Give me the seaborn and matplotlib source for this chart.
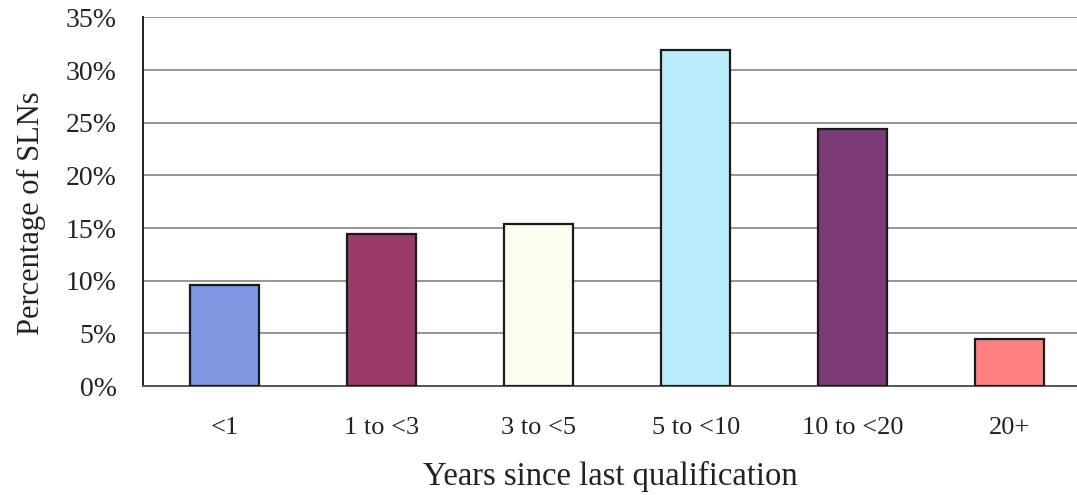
import matplotlib
matplotlib.use("Agg")
import matplotlib.pyplot as plt
from matplotlib.ticker import FixedLocator, PercentFormatter
import seaborn as sns
import pandas as pd

# Share of SLNs by years since their last qualification
categories = ["<1", "1 to <3", "3 to <5", "5 to <10", "10 to <20", "20+"]
percentages = [9.6, 14.4, 15.4, 31.9, 24.4, 4.5]
bar_colors = ["#7f96e0", "#993a68", "#fdfdf0", "#b8ecfa", "#7b3a78", "#ff8080"]
y_ticks = [0, 5, 10, 15, 20, 25, 30, 35]

df = pd.DataFrame({"years": categories, "pct": percentages})

sns.set_style("white")
plt.rcParams["font.family"] = ["Liberation Serif", "DejaVu Serif"]

fig = plt.figure(figsize=(10.77, 4.95), dpi=100)
ax = fig.add_axes([0.133, 0.22, 0.867, 0.745])

sns.barplot(data=df, x="years", y="pct", hue="years", palette=bar_colors,
            order=categories, hue_order=categories, legend=False,
            width=0.44, edgecolor="#1a1a1a", linewidth=1.6, saturation=1,
            ax=ax, zorder=3)

ax.set_xlim(-0.52, 5.43)
ax.set_ylim(0, 35)
ax.yaxis.set_major_locator(FixedLocator(y_ticks))
ax.yaxis.set_major_formatter(PercentFormatter(decimals=0))
ax.grid(axis="y", color="#8c8c8c", linewidth=1.3, zorder=0)
ax.set_axisbelow(True)

# category boundary ticks below the x axis
ax.xaxis.set_minor_locator(FixedLocator([i - 0.5 for i in range(len(categories) + 1)]))
ax.tick_params(axis="x", which="major", length=0, pad=22, labelsize=19, colors="#222222")
ax.tick_params(axis="x", which="minor", length=6, width=1, color="#999999", direction="out")
ax.tick_params(axis="y", which="major", length=5, width=1, color="#999999",
               direction="out", pad=14, labelsize=20, labelcolor="#222222")

for side in ["top", "right"]:
    ax.spines[side].set_visible(False)
ax.spines["left"].set_color("#222222")
ax.spines["left"].set_linewidth(1.4)
ax.spines["bottom"].set_color("#555555")
ax.spines["bottom"].set_linewidth(1.4)

ax.set_xlabel("Years since last qualification", fontsize=23.5, color="#222222", labelpad=16)
ax.set_ylabel("Percentage of SLNs", fontsize=22, color="#222222")
ax.yaxis.set_label_coords(-0.104, 0.469)

fig.savefig("out.png", dpi=100)
